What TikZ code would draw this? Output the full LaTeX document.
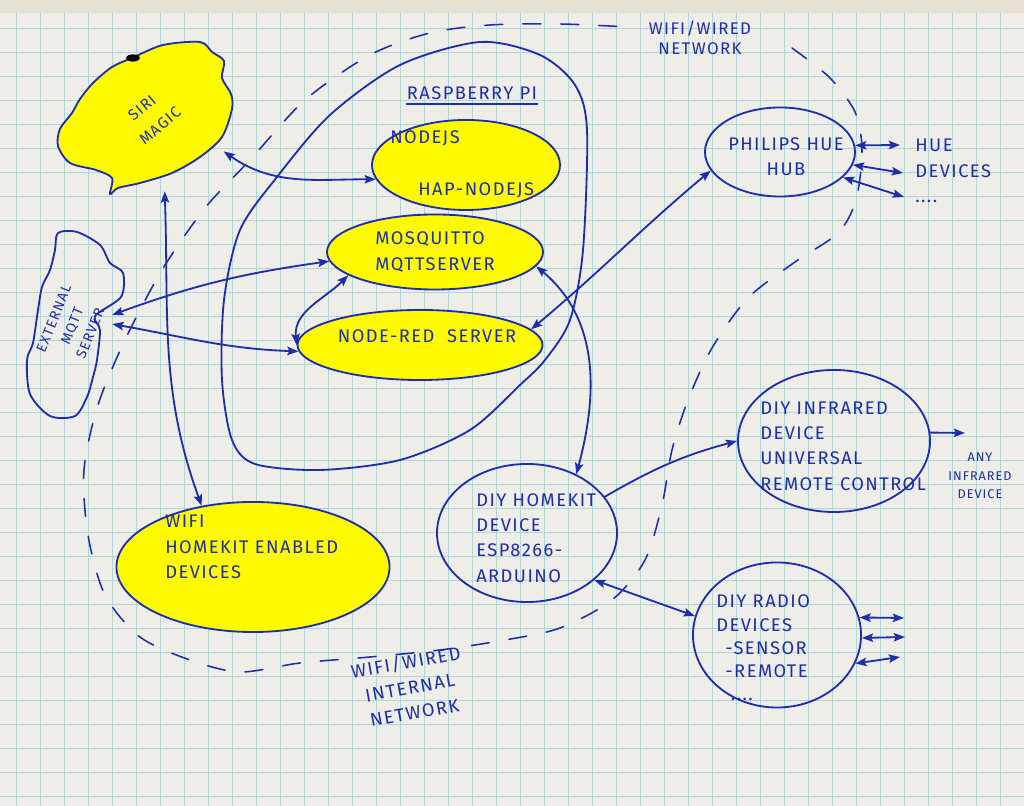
\documentclass[tikz,border=0pt]{standalone}
\usepackage{fontspec}
\setmainfont{Fira Sans}[LetterSpace=8]
\usetikzlibrary{shapes.geometric,arrows.meta}
\definecolor{inkblue}{RGB}{28,46,172}
\definecolor{hiyellow}{RGB}{255,250,0}
\definecolor{paper}{RGB}{238,237,231}
\definecolor{gridline}{RGB}{178,214,214}
\definecolor{paperedge}{RGB}{229,224,210}
\newcommand\hand{\fontsize{13}{18}\selectfont}

\begin{document}
\begin{tikzpicture}[x=0.025cm, y=0.025cm, line join=round, line cap=round, >={Stealth[length=8pt,width=6pt,inset=1.5pt]}]
\tikzset{
  ink/.style={draw=inkblue, line width=1.3pt},
  yel/.style={ellipse, ink, fill=hiyellow, inner sep=0pt},
  rim/.style={ellipse, ink, inner sep=0pt},
  ghost/.style={ellipse, inner sep=0pt},
  hand/.style={text=inkblue, font=\hand, align=left, inner sep=0pt},
  link/.style={ink, <->},
  net/.style={draw=inkblue, line width=1.1pt, dash pattern=on 0.45cm off 0.5cm},
}
\useasboundingbox (0,0) rectangle (1024,806);
% squared paper
\fill[paper] (0,0) rectangle (1024,806);
\foreach \x in {16,40,...,1024} \draw[gridline, line width=0.45pt] (\x,0)--(\x,793);
\foreach \y in {10,34,...,778} \draw[gridline, line width=0.45pt] (0,\y)--(1024,\y);
\fill[paperedge] (0,793) rectangle (1024,806);

% wifi / wired network
\draw[net] plot[smooth] coordinates {(792,758) (830,728) (855,694) (862,656) (856,606) (838,573) (795,544) (748,508) (712,458) (688,406) (672,356) (662,301) (645,246) (612,206) (560,178) (505,166) (440,156) (370,149) (300,143) (240,134) (190,146) (140,169) (105,211) (88,271) (84,336) (98,401) (125,466) (162,536) (205,598) (250,646) (305,706) (370,751) (430,773) (490,781) (560,782) (628,779)};
\node[hand, font=\fontsize{12}{14}\selectfont, align=center] (netTop) at (700,768) {WIFI/WIRED\\NETWORK};
\node[hand, align=center, rotate=10] (netIn) at (410,119) {WIFI/WIRED\\INTERNAL\\NETWORK};

% raspberry pi
\draw[ink] plot[smooth cycle] coordinates {(520,421) (470,376) (400,346) (320,336) (255,342) (232,366) (222,426) (224,506) (240,576) (277,629) (330,691) (400,741) (480,764) (540,751) (575,721) (587,676) (583,556) (570,486) (545,446)};
\node[hand] (rpi) at (472,713) {RASPBERRY PI};
\draw[ink] ([yshift=-3pt]rpi.south west) -- ([yshift=-3pt]rpi.south east);

\node[yel, minimum width=4.7cm, minimum height=2.25cm] (njs) at (466,641) {};
\node[hand, anchor=west] (njsA) at (390,668) {NODEJS};
\node[hand, anchor=west] (njsB) at (418,616) {HAP-NODEJS};
\node[yel, minimum width=5.4cm, minimum height=1.875cm] (mosq) at (435,554) {};
\node[hand] (mosqT) at (435,554) {MOSQUITTO\\MQTTSERVER};
\node[yel, minimum width=6.125cm, minimum height=1.75cm] (nred) at (420,461) {};
\node[hand] (nredT) at (427,470) {NODE-RED\ \ SERVER};

% siri
\draw[ink, fill=hiyellow] plot[smooth cycle] coordinates {(132,748) (163,761) (200,764) (212,754) (224,745) (222,728) (231,712) (232,697) (222,669) (200,649) (172,633) (140,623) (118,618) (110,612) (112,628) (96,636) (70,643) (58,660) (60,677) (72,693) (80,707) (93,723) (112,739)};
\fill (133,748) ellipse [x radius=0.17cm, y radius=0.09cm];
\node[ghost, minimum width=4.375cm, minimum height=3.75cm] (siri) at (145,688) {};
\node[hand, font=\fontsize{11}{13}\selectfont, rotate=40] (siriA) at (142,698) {SIRI};
\node[hand, font=\fontsize{11}{13}\selectfont, rotate=40] (siriB) at (160,680) {MAGIC};

% external mqtt
\draw[ink] plot[smooth cycle] coordinates {(58,573) (77,574) (100,561) (110,543) (123,533) (121,509) (95,490) (100,476) (97,446) (93,429) (87,409) (75,390) (50,390) (30,412) (27,446) (33,463) (38,496) (42,519) (50,536) (55,556)};
\node[ghost, minimum width=2cm, minimum height=4.625cm] (ext) at (72,484) {};
\node[hand, font=\fontsize{10}{14}\selectfont, align=center, rotate=68] (extT) at (72,480) {EXTERNAL\\MQTT\\SERVER};

% homekit devices
\node[yel, minimum width=6.825cm, minimum height=3.25cm] (wifi) at (253,239) {};
\node[hand, anchor=west] (wifiT) at (165,259) {WIFI\\HOMEKIT ENABLED\\DEVICES};
\node[rim, minimum width=4.5cm, minimum height=3.45cm] (homekit) at (527,273) {};
\node[hand, anchor=west] (hkT) at (476,268) {DIY HOMEKIT\\DEVICE\\ESP8266-\\ARDUINO};

% hue
\node[rim, minimum width=3.75cm, minimum height=2.225cm] (hub) at (780,654) {};
\node[hand, align=center] (hubT) at (786,649) {PHILIPS HUE\\HUB};
\node[hand, anchor=west] (hueT) at (915,635) {HUE\\DEVICES\\....};
\coordinate (hueA) at (900,661);
\coordinate (hueB) at (903,633);
\coordinate (hueC) at (904,609);

% infrared
\node[rim, minimum width=4.8cm, minimum height=3.55cm] (infra) at (834,365) {};
\node[hand, anchor=west] (infraT) at (760,360) {DIY INFRARED\\DEVICE\\UNIVERSAL\\REMOTE CONTROL};
\node[hand, font=\fontsize{9}{13}\selectfont, align=center] (anyT) at (980,330) {ANY\\INFRARED\\DEVICE};
\coordinate (anyIn) at (965,373);

% radio
\node[rim, minimum width=4.2cm, minimum height=3.625cm] (radio) at (777,171) {};
\node[hand, font=\fontsize{13}{16.5}\selectfont, anchor=west] (radT) at (716,158) {DIY RADIO\\DEVICES\\\hspace*{0.5em}-SENSOR\\\hspace*{0.5em}-REMOTE\\\hspace*{0.8em}....};
\coordinate (radA) at (904,188);
\coordinate (radB) at (905,169);
\coordinate (radC) at (900,149);

% connections
\draw[link] (siri.-23) to[out=-35,in=180] (njs.189);
\draw[link] (siri.-75) to[out=-88,in=110] (wifi.130);
\draw[link] (ext.10) to[out=20,in=188] (mosq.185);
\draw[link] (ext.-3) to[out=-10,in=178] (nred.183);
\draw[link] (mosq.195) to[out=225,in=95] (nred.180);
\draw[link] (nred.8) to[out=40,in=220] (hub.195);
\draw[link] (mosq.-8) to[out=-40,in=75] (homekit.50);
\draw[ink,->] (homekit.25) to[out=30,in=195] (infra.180);
\draw[link] (homekit.-35) -- (radio.167);
\draw[ink,->] (infra.5) -- (anyIn);
\draw[link] (hub.5) -- (hueA);
\draw[link] (hub.-10) -- (hueB);
\draw[link] (hub.-22) -- (hueC);
\draw[link] (radio.12) -- (radA);
\draw[link] (radio.-2) -- (radB);
\draw[link] (radio.-20) -- (radC);
\end{tikzpicture}
\end{document}
